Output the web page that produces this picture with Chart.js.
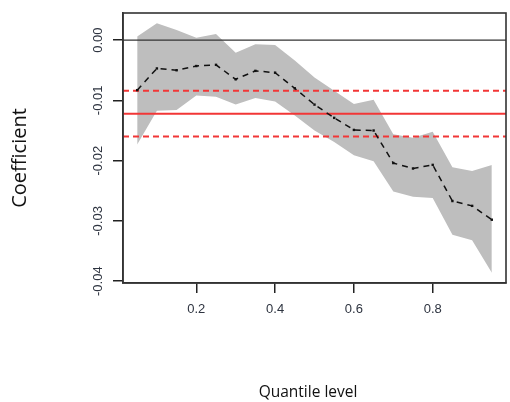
<!DOCTYPE html>
<html>
<head>
<meta charset="utf-8">
<script src="https://cdn.jsdelivr.net/npm/chart.js@4.4.1/dist/chart.umd.min.js"></script>
<style>
  html, body { margin: 0; padding: 0; background: #ffffff; }
  #wrap { width: 510px; height: 402px; position: relative; }
</style>
</head>
<body>
<div id="wrap"><canvas id="c" width="510" height="402"></canvas></div>
<script>
// Quantile levels
const quantiles = [0.05, 0.10, 0.15, 0.20, 0.25, 0.30, 0.35, 0.40, 0.45, 0.50,
                   0.55, 0.60, 0.65, 0.70, 0.75, 0.80, 0.85, 0.90, 0.95];
// Quantile regression coefficient estimates
const coefficient = [-0.0083, -0.0047, -0.0050, -0.0043, -0.0041, -0.0065, -0.0051, -0.0054, -0.0080, -0.0107,
                     -0.0129, -0.0149, -0.0150, -0.0204, -0.0213, -0.0207, -0.0267, -0.0275, -0.0298];
// Confidence band bounds
const upperBound = [0.0006, 0.0028, 0.0017, 0.0004, 0.0010, -0.0021, -0.0007, -0.0008, -0.0034, -0.0062,
                    -0.0084, -0.0106, -0.0099, -0.0156, -0.0162, -0.0152, -0.0211, -0.0217, -0.0207];
const lowerBound = [-0.0173, -0.0117, -0.0116, -0.0092, -0.0094, -0.0107, -0.0096, -0.0102, -0.0125, -0.0150,
                    -0.0169, -0.0191, -0.0201, -0.0251, -0.0260, -0.0262, -0.0323, -0.0332, -0.0386];
// OLS estimate and its confidence interval
const olsEstimate = -0.0122;
const olsLower = -0.0160;
const olsUpper = -0.0084;
const zeroLine = 0;
// Axis ticks
const xTicks = [0.2, 0.4, 0.6, 0.8];
const yTicks = [-0.04, -0.03, -0.02, -0.01, 0.00];
const xRange = [0.014, 0.986];
const yRange = [-0.0403, 0.0045];

const pts = arr => quantiles.map((q, i) => ({ x: q, y: arr[i] }));
const hline = v => [{ x: xRange[0], y: v }, { x: xRange[1], y: v }];

const RED = '#f23636';
const TICK_FONT = '"Liberation Sans", Arial, sans-serif';

const framePlugin = {
  id: 'frame',
  afterDatasetsDraw(chart) {
    const { ctx, chartArea: a, scales } = chart;
    ctx.save();
    ctx.strokeStyle = '#333';
    ctx.lineWidth = 1.6;
    ctx.strokeRect(a.left, a.top, a.right - a.left, a.bottom - a.top);
    // rotated y tick labels
    ctx.fillStyle = '#2e3440';
    ctx.font = '13px ' + TICK_FONT;
    ctx.textAlign = 'center';
    ctx.textBaseline = 'middle';
    yTicks.forEach(v => {
      const y = scales.y.getPixelForValue(v);
      ctx.save();
      ctx.translate(98, y);
      ctx.rotate(-Math.PI / 2);
      ctx.fillText(v.toFixed(2), 0, 0);
      ctx.restore();
    });
    // axis titles
    ctx.fillStyle = '#111';
    ctx.font = '20px "Open Sans", sans-serif';
    ctx.save();
    ctx.translate(20, 158);
    ctx.rotate(-Math.PI / 2);
    ctx.fillText('Coefficient', 0, 0);
    ctx.restore();
    ctx.font = '15.5px "Open Sans", sans-serif';
    ctx.fillText('Quantile level', 308, 393);
    ctx.restore();
  }
};

new Chart(document.getElementById('c'), {
  type: 'scatter',
  data: {
    datasets: [
      {
        label: 'upper',
        data: pts(upperBound),
        showLine: true,
        borderWidth: 0,
        borderColor: 'rgba(0,0,0,0)',
        backgroundColor: '#bebebe',
        pointRadius: 0,
        fill: '+1',
        order: 5
      },
      {
        label: 'lower',
        data: pts(lowerBound),
        showLine: true,
        borderWidth: 0,
        borderColor: 'rgba(0,0,0,0)',
        pointRadius: 0,
        fill: false,
        order: 5
      },
      {
        label: 'zero',
        data: hline(zeroLine),
        showLine: true,
        borderColor: '#333',
        borderWidth: 1.3,
        pointRadius: 0,
        fill: false,
        order: 4
      },
      {
        label: 'ols',
        data: hline(olsEstimate),
        showLine: true,
        borderColor: RED,
        borderWidth: 2,
        pointRadius: 0,
        fill: false,
        order: 3
      },
      {
        label: 'olsLower',
        data: hline(olsLower),
        showLine: true,
        borderColor: RED,
        borderWidth: 2,
        borderDash: [6, 4],
        pointRadius: 0,
        fill: false,
        order: 3
      },
      {
        label: 'olsUpper',
        data: hline(olsUpper),
        showLine: true,
        borderColor: RED,
        borderWidth: 2,
        borderDash: [6, 4],
        pointRadius: 0,
        fill: false,
        order: 3
      },
      {
        label: 'coefficient',
        data: pts(coefficient),
        showLine: true,
        borderColor: '#111',
        borderWidth: 1.5,
        borderDash: [6, 5],
        pointStyle: 'rect',
        pointRadius: 1.7,
        pointBackgroundColor: '#111',
        pointBorderWidth: 0,
        fill: false,
        order: 1
      }
    ]
  },
  options: {
    responsive: false,
    animation: false,
    events: [],
    layout: { padding: { left: 0, top: 13, right: 3, bottom: 0 } },
    plugins: {
      legend: { display: false },
      tooltip: { enabled: false }
    },
    scales: {
      x: {
        type: 'linear',
        min: xRange[0],
        max: xRange[1],
        afterBuildTicks: s => { s.ticks = xTicks.map(v => ({ value: v })); },
        afterFit: s => { s.height = 119; },
        grid: { drawOnChartArea: false, drawTicks: true, tickLength: 10, color: '#222', lineWidth: 1.5 },
        border: { display: true, color: '#333', width: 1.6 },
        ticks: {
          padding: 9,
          color: '#2e3440',
          font: { family: TICK_FONT, size: 13 },
          maxRotation: 0,
          callback: v => v.toFixed(1)
        }
      },
      y: {
        type: 'linear',
        min: yRange[0],
        max: yRange[1],
        afterBuildTicks: s => { s.ticks = yTicks.map(v => ({ value: v })); },
        afterFit: s => { s.width = 123; },
        grid: { drawOnChartArea: false, drawTicks: true, tickLength: 10, color: '#222', lineWidth: 1.5 },
        border: { display: true, color: '#333', width: 1.6 },
        ticks: { display: false }
      }
    }
  },
  plugins: [framePlugin]
});
</script>
</body>
</html>
